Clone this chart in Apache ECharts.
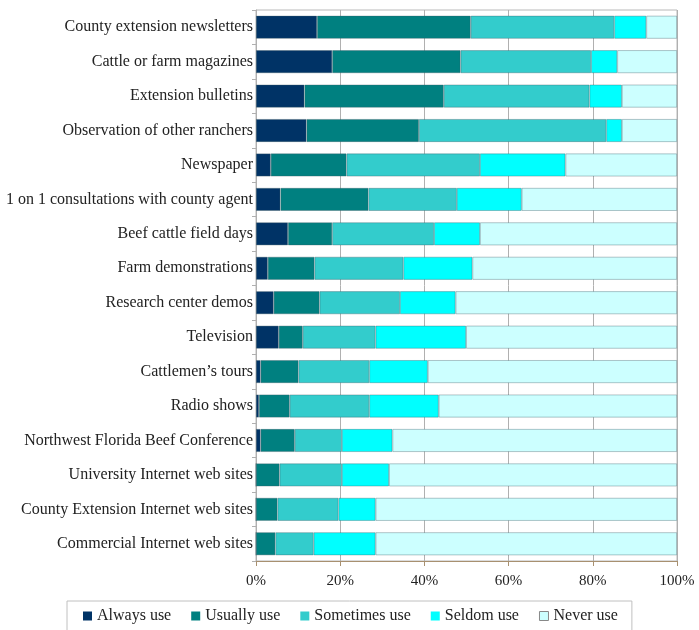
<!DOCTYPE html>
<html>
<head>
<meta charset="utf-8">
<script src="https://cdn.jsdelivr.net/npm/echarts@6/dist/echarts.min.js"></script>
<style>
  html, body { margin: 0; padding: 0; background: #fff; }
  #chart { width: 699px; height: 630px; }
</style>
</head>
<body>
<div id="chart"></div>
<script>
const categories = [
  "County extension newsletters",
  "Cattle or farm magazines",
  "Extension bulletins",
  "Observation of other ranchers",
  "Newspaper",
  "1 on 1 consultations with county agent",
  "Beef cattle field days",
  "Farm demonstrations",
  "Research center demos",
  "Television",
  "Cattlemen\u2019s tours",
  "Radio shows",
  "Northwest Florida Beef Conference",
  "University Internet web sites",
  "County Extension Internet web sites",
  "Commercial Internet web sites"
];

const alwaysUse    = [14.5, 18.1, 11.5, 12.0, 3.5, 5.8, 7.6, 2.8, 4.2, 5.4, 1.1, 0.7, 1.1, 0, 0, 0];
const usuallyUse   = [36.5, 30.5, 33.1, 26.7, 18.0, 20.9, 10.5, 11.1, 10.9, 5.7, 9.0, 7.3, 8.1, 5.6, 5.1, 4.6];
const sometimesUse = [34.1, 31.0, 34.6, 44.5, 31.7, 21.0, 24.2, 21.1, 19.1, 17.3, 16.8, 18.9, 11.2, 14.8, 14.5, 9.1];
const seldomUse    = [7.6, 6.2, 7.7, 3.7, 20.3, 15.4, 10.9, 16.4, 13.2, 21.5, 13.9, 16.5, 12.0, 11.2, 8.8, 14.7];
const neverUse     = [7.3, 14.2, 13.1, 13.1, 26.5, 36.9, 46.8, 48.6, 52.6, 50.1, 59.2, 56.6, 67.6, 68.4, 71.6, 71.6];

const xTicks = [0, 20, 40, 60, 80, 100];

const seriesDefs = [
  { name: "Always use", data: alwaysUse, color: "#003366" },
  { name: "Usually use", data: usuallyUse, color: "#008080" },
  { name: "Sometimes use", data: sometimesUse, color: "#33CCCC" },
  { name: "Seldom use", data: seldomUse, color: "#00FFFF" },
  { name: "Never use", data: neverUse, color: "#CCFFFF" }
];

const font = "'Liberation Serif', 'DejaVu Serif', serif";

const chart = echarts.init(document.getElementById("chart"));

chart.setOption({
  animation: false,
  textStyle: { fontFamily: font },
  grid: {
    left: 256,
    right: 22,
    top: 10,
    bottom: 69,
    show: true,
    borderColor: "#b8b8b8",
    borderWidth: 1
  },
  legend: {
    bottom: -3,
    left: 67,
    itemWidth: 9,
    itemHeight: 9,
    itemGap: 20,
    icon: "rect",
    padding: [7, 14, 9, 16],
    borderColor: "#c0c0c0",
    borderWidth: 1,
    textStyle: { fontFamily: font, fontSize: 16, color: "#222" },
    data: seriesDefs.map(s => ({
      name: s.name,
      itemStyle: { borderColor: "#888", borderWidth: s.name === "Never use" ? 1 : 0 }
    }))
  },
  xAxis: {
    type: "value",
    min: 0,
    max: 100,
    interval: 20,
    axisLine: { show: true, lineStyle: { color: "#a89070", width: 1 } },
    axisTick: { show: true, length: 5, lineStyle: { color: "#a89070" } },
    splitLine: { show: true, lineStyle: { color: "#b0b0b0", width: 1 } },
    axisLabel: {
      margin: 13,
      fontFamily: font,
      fontSize: 15,
      color: "#222",
      formatter: v => (xTicks.includes(v) ? v + "%" : "")
    }
  },
  yAxis: {
    type: "category",
    inverse: true,
    data: categories,
    axisLine: { show: true, lineStyle: { color: "#b0b0b0" } },
    axisTick: { show: true, length: 4, lineStyle: { color: "#b0b0b0" } },
    axisLabel: {
      margin: 3,
      fontFamily: font,
      fontSize: 16,
      color: "#222"
    }
  },
  series: seriesDefs.map(s => ({
    name: s.name,
    type: "bar",
    stack: "total",
    barWidth: 23,
    data: s.data,
    itemStyle: {
      color: s.color,
      borderColor: "rgba(60,90,100,0.45)",
      borderWidth: 0.8
    }
  }))
});
</script>
</body>
</html>
